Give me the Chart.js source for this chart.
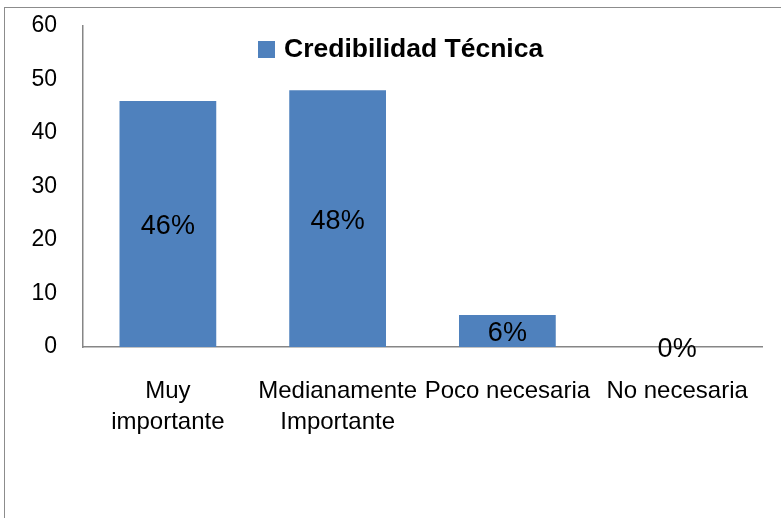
<!DOCTYPE html>
<html>
<head>
<meta charset="utf-8">
<script src="https://cdn.jsdelivr.net/npm/chart.js@4/dist/chart.umd.min.js"></script>
<style>
  html, body { margin: 0; padding: 0; background: #ffffff; overflow: hidden; }
  #frame {
    position: absolute; left: 4px; top: 7px; width: 800px; height: 530px;
    border: 1px solid #8c8c8c; box-sizing: border-box;
  }
  #wrap { position: absolute; left: 0; top: 0; width: 781px; height: 518px; }
</style>
</head>
<body>
<div id="frame"></div>
<div id="wrap"><canvas id="chart" width="781" height="518"></canvas></div>
<script>
var categories = [["Muy", "importante"], ["Medianamente", "Importante"], "Poco necesaria", "No necesaria"]
var seriesName = "Credibilidad Técnica"
var values = [46, 48, 6, 0]
var valueLabels = ["46%", "48%", "6%", "0%"]
var yTicks = [0, 10, 20, 30, 40, 50, 60]

var barColor = "#4F81BD"
var axisColor = "#868686"
var font = "'Liberation Sans', Arial, sans-serif"

// labels in the middle of each bar
var barLabels = {
  id: "barLabels",
  afterDatasetsDraw: function (chart) {
    var ctx = chart.ctx
    var meta = chart.getDatasetMeta(0)
    ctx.save()
    ctx.font = "27px " + font
    ctx.fillStyle = "#000000"
    ctx.textAlign = "center"
    ctx.textBaseline = "middle"
    meta.data.forEach(function (bar, i) {
      var y = (bar.y + bar.base) / 2
      ctx.fillText(valueLabels[i], bar.x, y + 3)
    })
    ctx.restore()
  }
}

// legend drawn inside the plot like the original
var innerLegend = {
  id: "innerLegend",
  afterDraw: function (chart) {
    var ctx = chart.ctx
    var ds = chart.data.datasets[0]
    ctx.save()
    ctx.fillStyle = ds.backgroundColor
    ctx.fillRect(258, 41, 17, 17)
    ctx.font = "bold 26.5px " + font
    ctx.fillStyle = "#000000"
    ctx.textAlign = "left"
    ctx.textBaseline = "middle"
    ctx.fillText(ds.label, 284, 50)
    ctx.restore()
  }
}

new Chart(document.getElementById("chart"), {
  type: "bar",
  plugins: [barLabels, innerLegend],
  data: {
    labels: categories,
    datasets: [{
      label: seriesName,
      data: values,
      backgroundColor: barColor,
      borderWidth: 0,
      barPercentage: 0.57,
      categoryPercentage: 1
    }]
  },
  options: {
    responsive: false,
    animation: false,
    layout: { padding: { top: 26, right: 19, bottom: 0, left: 0 } },
    plugins: {
      legend: { display: false },
      tooltip: { enabled: false }
    },
    scales: {
      x: {
        grid: { display: false, drawTicks: false },
        border: { display: true, color: axisColor, width: 1.5 },
        ticks: {
          color: "#000000",
          font: { family: font, size: 24, lineHeight: 1.3 },
          maxRotation: 0,
          autoSkip: false,
          padding: 29
        },
        afterFit: function (scale) {
          scale.height = 518 - 347
          scale.paddingLeft = 0
          scale.paddingRight = 0
        }
      },
      y: {
        min: 0,
        max: 60,
        grid: { display: false, drawTicks: false },
        border: { display: true, color: axisColor, width: 1.5 },
        afterBuildTicks: function (scale) {
          scale.ticks = yTicks.map(function (v) { return { value: v } })
        },
        ticks: {
          color: "#000000",
          font: { family: font, size: 23 },
          padding: 26
        },
        afterFit: function (scale) {
          scale.width = 83
          scale.paddingTop = 0
          scale.paddingBottom = 0
        }
      }
    }
  }
})
</script>
</body>
</html>
